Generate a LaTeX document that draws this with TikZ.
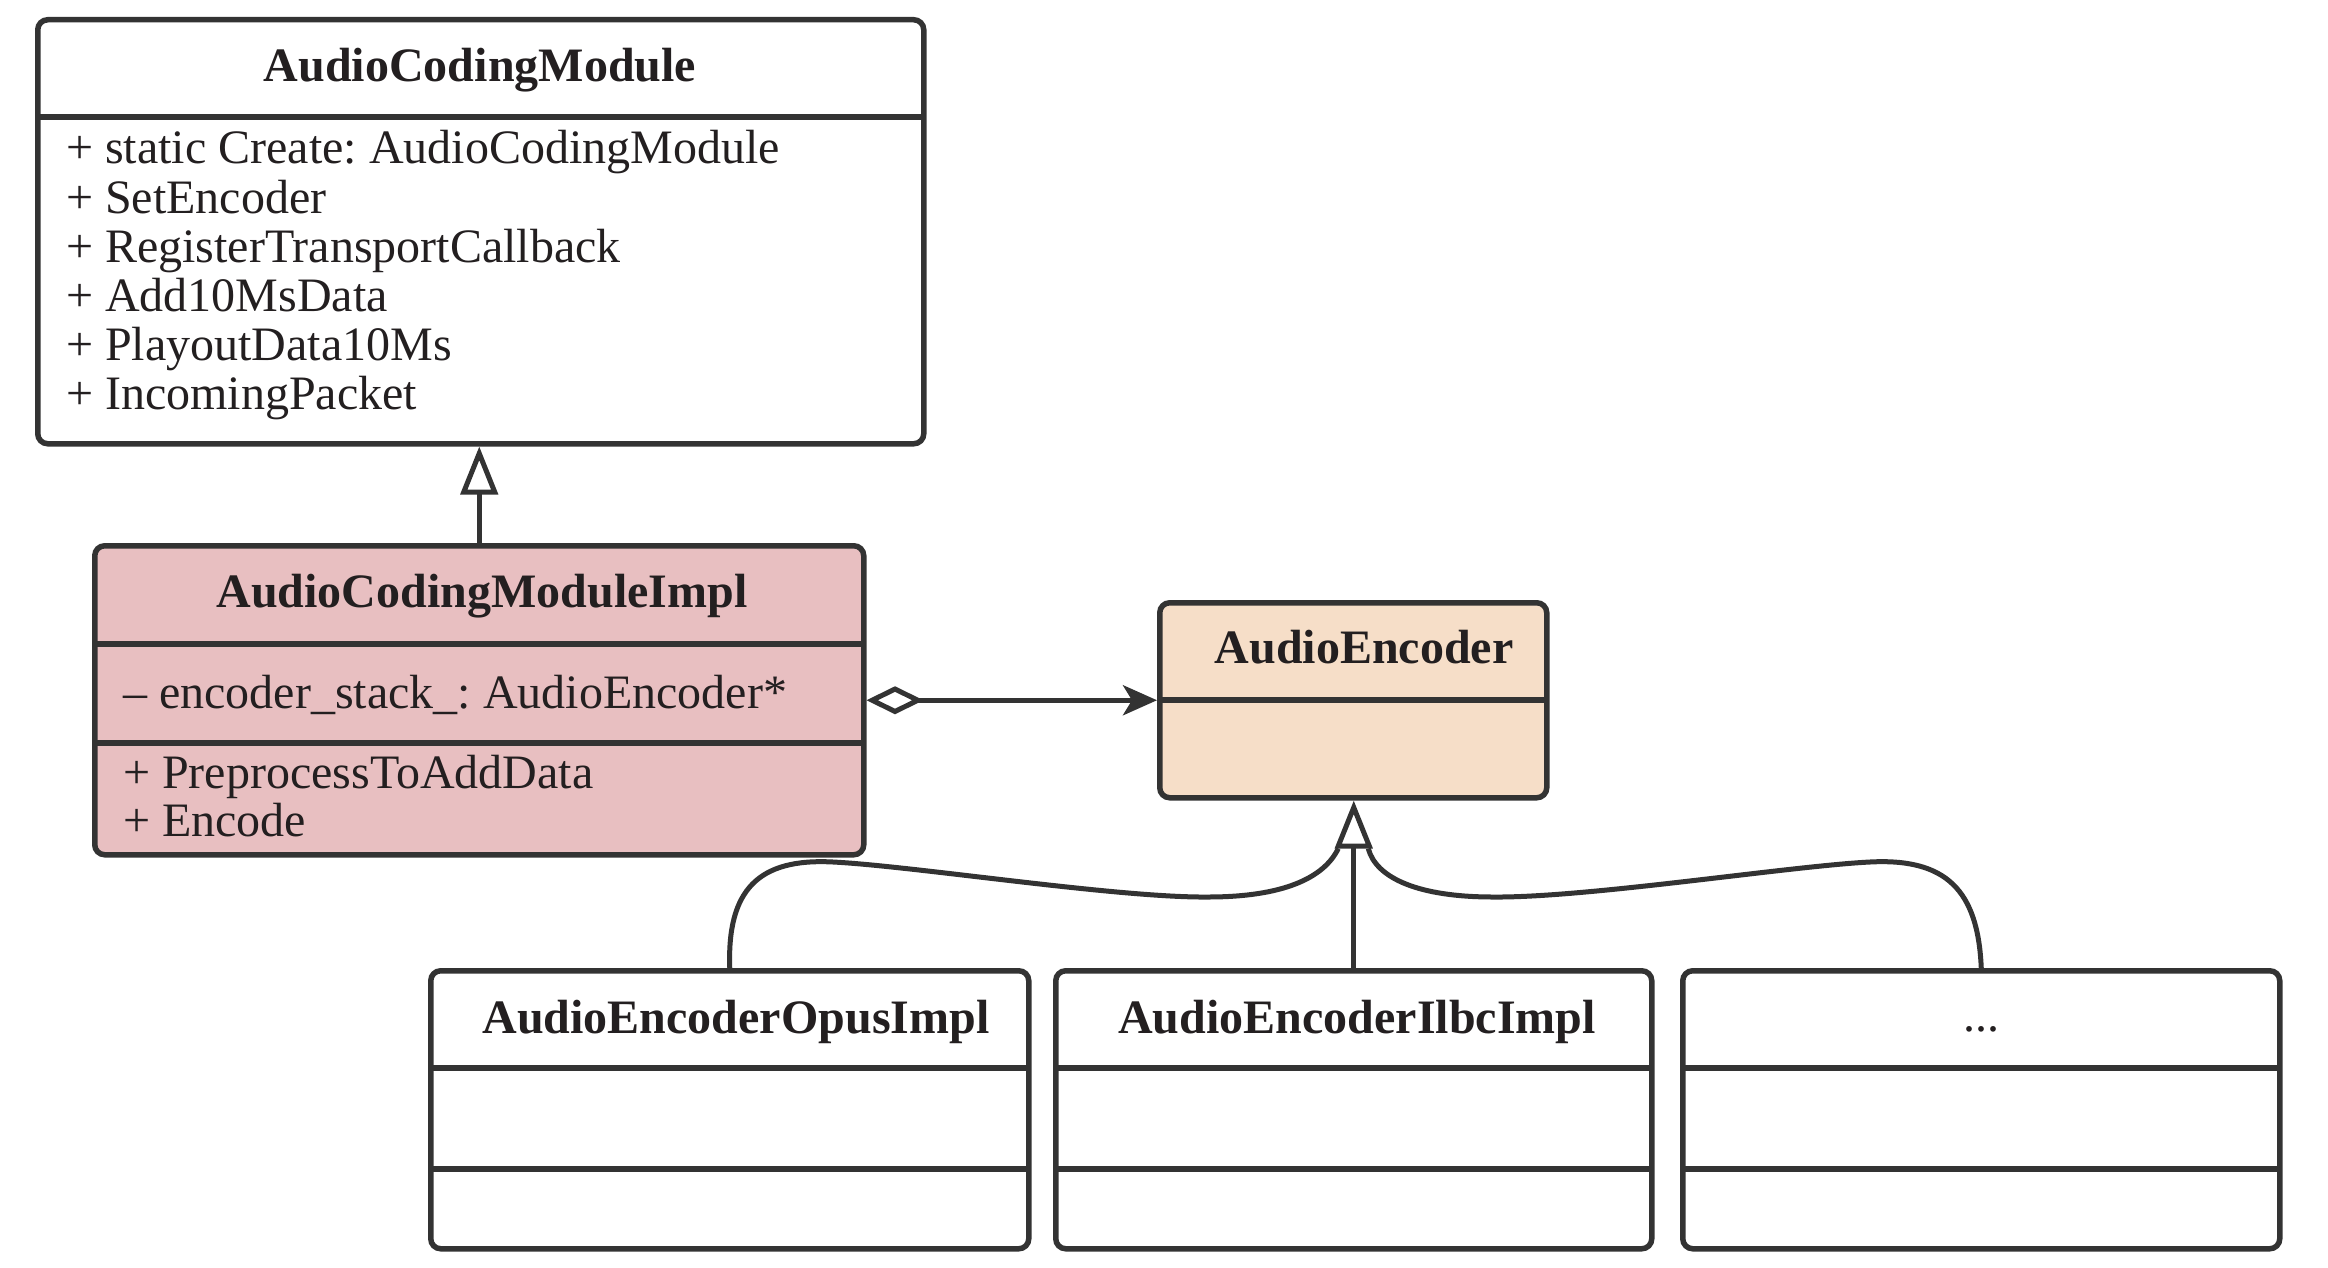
\documentclass[tikz,border=0pt]{standalone}
\usepackage{fontspec}
\setmainfont{Liberation Serif}
\usetikzlibrary{arrows.meta}
\definecolor{ink}{HTML}{231F20}
\definecolor{edge}{HTML}{333333}
\definecolor{pinkfill}{HTML}{E8BFC1}
\definecolor{peachfill}{HTML}{F6DEC8}
\frenchspacing
\begin{document}
\begin{tikzpicture}[x=1pt,y=-1pt,
  box/.style={draw=edge, line width=5.5pt, rounded corners=10pt, inner sep=0pt, anchor=north west},
  divline/.style={draw=edge, line width=5.5pt},
  conn/.style={draw=edge, line width=5pt},
  txt/.style={inner sep=0pt, text=ink, font=\fontsize{48}{49}\selectfont},
  ttl/.style={txt, anchor=base, font=\fontsize{48}{49}\selectfont\bfseries},
  item/.style={txt, anchor=base west},
  gen/.style={-{Triangle[open,length=48pt,width=37pt]}}]
\fill[white] (0,0) rectangle (2328,1268);
\useasboundingbox (0,0) rectangle (2328,1268);

% AudioCodingModule
\node[box, fill=white, minimum width=886pt, minimum height=424pt] (acm) at (35,17) {};
\draw[divline] (35,117) -- (921,117);
\node[ttl] (acmt) at (480,82) {AudioCodingModule};
\node[item] (acm1) at (66,164) {+ static Create: AudioCodingModule};
\node[item] (acm2) at (66,213) {+ SetEncoder};
\node[item] (acm3) at (66,262) {+ RegisterTransportCallback};
\node[item] (acm4) at (66,311) {+ Add10MsData};
\node[item] (acm5) at (66,360) {+ PlayoutData10Ms};
\node[item] (acm6) at (66,409) {+ IncomingPacket};

% AudioCodingModuleImpl
\node[box, fill=pinkfill, minimum width=769pt, minimum height=309pt] (impl) at (92,543) {};
\draw[divline] (92,644) -- (861,644);
\draw[divline] (92,743) -- (861,743);
\node[ttl] (implt) at (482,607) {AudioCodingModuleImpl};
\node[item] (impl1) at (123,708) {\textendash{} encoder\_stack\_: AudioEncoder*};
\node[item] (impl2) at (123,788) {+ PreprocessToAddData};
\node[item] (impl3) at (123,836) {+ Encode};

% AudioEncoder
\node[box, fill=peachfill, minimum width=387pt, minimum height=195pt] (ae) at (1157,600) {};
\draw[divline] (1157,700) -- (1544,700);
\node[ttl] (aet) at (1364,663) {AudioEncoder};

% Subclasses
\node[box, fill=white, minimum width=598pt, minimum height=278pt] (e1) at (428,968) {};
\node[box, fill=white, minimum width=596pt, minimum height=278pt] (e2) at (1053,968) {};
\node[box, fill=white, minimum width=597pt, minimum height=278pt] (e3) at (1680,968) {};
\foreach \a/\b in {428/1026,1053/1649,1680/2277}{
  \draw[divline] (\a,1068) -- (\b,1068);
  \draw[divline] (\a,1169) -- (\b,1169);
}
\node[ttl] (e1t) at (736,1033) {AudioEncoderOpusImpl};
\node[ttl] (e2t) at (1357,1033) {AudioEncoderIlbcImpl};
\node[txt, anchor=base] (e3t) at (1981,1031) {...};

% connectors
\draw[conn, gen] (impl.north) -- (impl.north |- acm.south);
\draw[conn, {Diamond[open,length=57pt,width=28pt]}-{Stealth[length=34pt,width=30pt,inset=9pt]}] (impl.east) -- (ae.west);
\draw[conn, gen] (e2.north) -- (e2.north |- ae.south);
\coordinate (bl) at ([shift={(-15pt,-48pt)}]ae.south);
\coordinate (br) at ([shift={(15pt,-48pt)}]ae.south);
\draw[conn] (e1.north) .. controls (727,890) and (758,858) .. (833,862)
  .. controls (913,866) and (1118,898) .. (1208,897)
  .. controls (1283,897) and (1324,878) .. (bl);
\draw[conn] (e3.north) .. controls (1978,890) and (1946,858) .. (1870,862)
  .. controls (1790,866) and (1586,898) .. (1493,897)
  .. controls (1418,897) and (1376,878) .. (br);
\end{tikzpicture}
\end{document}
